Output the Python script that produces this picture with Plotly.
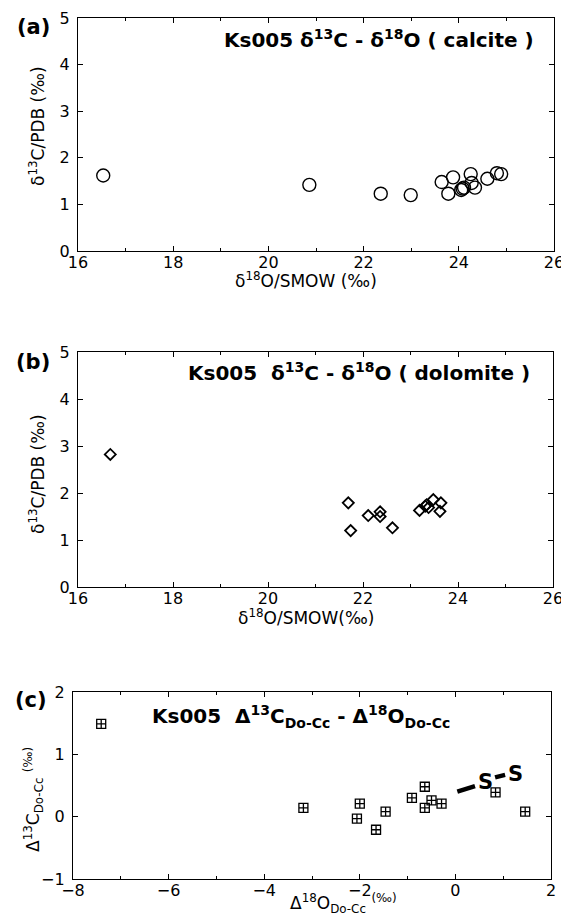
import plotly.graph_objects as go

# ---------------- data ----------------
# (a) calcite
calc_d18O = [16.53, 20.86, 22.36, 22.99, 23.64, 23.88, 23.78, 24.05, 24.08, 24.11,
             24.25, 24.27, 24.34, 24.60, 24.80, 24.89]
calc_d13C = [1.62, 1.42, 1.23, 1.20, 1.48, 1.58, 1.23, 1.31, 1.34, 1.36,
             1.65, 1.46, 1.36, 1.55, 1.67, 1.65]
# (b) dolomite
dolo_d18O = [16.68, 21.69, 21.74, 22.11, 22.36, 22.36, 22.62, 23.19, 23.31, 23.38,
             23.34, 23.48, 23.64, 23.62]
dolo_d13C = [2.82, 1.79, 1.20, 1.52, 1.60, 1.50, 1.26, 1.63, 1.72, 1.69,
             1.75, 1.86, 1.79, 1.61]
# (c) dolomite - calcite differences
diff_d18O = [-7.41, -3.18, -2.00, -2.06, -1.66, -1.46, -0.91, -0.64, -0.64, -0.50,
             -0.29, 0.84, 1.46]
diff_d13C = [1.49, 0.14, 0.21, -0.03, -0.21, 0.08, 0.30, 0.48, 0.14, 0.26,
             0.21, 0.39, 0.08]

# axis ranges
a_xrange, a_yrange = [16, 26], [0, 5]
c_xrange, c_yrange = [-8, 2], [-1, 2]

# "S-S" annotation in panel (c)
ss_dash1 = ([0.04, 0.41], [0.40, 0.49])
ss_dash2 = ([0.83, 1.04], [0.63, 0.67])
ss_letters = ([0.62, 1.25], [0.55, 0.69])

FONT = "DejaVu Sans, Liberation Sans, Arial, sans-serif"

fig = go.Figure()

fig.add_trace(go.Scatter(x=calc_d18O, y=calc_d13C, mode="markers", xaxis="x", yaxis="y",
                         marker=dict(symbol="circle-open", size=13, color="black",
                                     line=dict(width=1.4, color="black")),
                         showlegend=False))
fig.add_trace(go.Scatter(x=dolo_d18O, y=dolo_d13C, mode="markers", xaxis="x2", yaxis="y2",
                         marker=dict(symbol="diamond-open", size=8.5, color="black",
                                     line=dict(width=1.8, color="black")),
                         showlegend=False))
fig.add_trace(go.Scatter(x=diff_d18O, y=diff_d13C, mode="markers", xaxis="x3", yaxis="y3",
                         marker=dict(symbol="square-cross-open", size=9, color="black",
                                     line=dict(width=1.3, color="black")),
                         showlegend=False))
for dx, dy in (ss_dash1, ss_dash2):
    fig.add_trace(go.Scatter(x=dx, y=dy, mode="lines", xaxis="x3", yaxis="y3",
                             line=dict(color="black", width=4.5), showlegend=False))

# page body has an 8px margin; size the figure so the page is 569 x 914
OFF = 8
W, H = 569 - OFF, 914 - OFF
def px(v):
    return (v - OFF) / W
def py(v):
    return 1 - (v - OFF) / H

def axstyle(rng, dtick, minor_dtick=None, standoff=0):
    d = dict(range=rng, dtick=dtick, showline=True, linecolor="black", linewidth=1.2,
             mirror="ticks", ticks="inside", ticklen=5, tickcolor="black", tickwidth=1,
             showgrid=False, zeroline=False, automargin=False, ticklabelstandoff=standoff,
             ticklabeloverflow="allow",
             tickfont=dict(family=FONT, size=16, color="black"))
    if minor_dtick:
        d["minor"] = dict(dtick=minor_dtick, ticks="inside", ticklen=3, tickcolor="black")
    return d

layout = dict(
    width=W, height=H, margin=dict(l=0, r=0, t=0, b=0),
    paper_bgcolor="white", plot_bgcolor="white",
    font=dict(family=FONT, color="black"),
)
layout["xaxis"] = dict(axstyle(a_xrange, 2, 1, -3), domain=[px(78), px(554)], anchor="y")
layout["yaxis"] = dict(axstyle(a_yrange, 1, None, 4), domain=[py(251), py(18)], anchor="x")
layout["xaxis2"] = dict(axstyle(a_xrange, 2, 1, -3), domain=[px(78), px(553)], anchor="y2")
layout["yaxis2"] = dict(axstyle(a_yrange, 1, None, 4), domain=[py(587), py(352)], anchor="x2")
layout["xaxis3"] = dict(axstyle(c_xrange, 2, 1, -3), domain=[px(73), px(551)], anchor="y3")
layout["yaxis3"] = dict(axstyle(c_yrange, 1, None, 4), domain=[py(879), py(692)], anchor="x3")

ann = []
tfont = dict(family=FONT, size=17, color="black")

def paper_text(text, x, y, font, angle=0):
    ann.append(dict(text=text, x=px(x), y=py(y), xref="paper", yref="paper",
                    showarrow=False, font=font, xanchor="center", yanchor="middle",
                    textangle=angle))

# axis titles
paper_text("δ<sup>18</sup>O/SMOW (‰)", 306, 280, tfont)
paper_text("δ<sup>13</sup>C/PDB (‰)", 37, 126, tfont, -90)
paper_text("δ<sup>18</sup>O/SMOW(‰)", 306, 617, tfont)
paper_text("δ<sup>13</sup>C/PDB (‰)", 37, 474, tfont, -90)
paper_text("Δ<sup>18</sup>O<sub>Do-Cc</sub> <sup>(‰)</sup>", 343, 903, tfont)
paper_text("Δ<sup>13</sup>C<sub>Do-Cc</sub> <sup>(‰)</sup>", 33, 800, tfont, -90)

# panel labels
bold = dict(family=FONT, size=21, color="black")
paper_text("<b>(a)</b>", 33, 27, bold)
paper_text("<b>(b)</b>", 33, 362, bold)
paper_text("<b>(c)</b>", 31, 700, bold)

# panel titles
hfont = dict(family=FONT, size=20, color="black")
ann.append(dict(text="<b>Ks005 δ<sup>13</sup>C - δ<sup>18</sup>O ( calcite )</b>",
                x=0.962, y=0.91, xref="x domain", yref="y domain", xanchor="right",
                yanchor="middle", showarrow=False, font=hfont))
ann.append(dict(text="<b>Ks005  δ<sup>13</sup>C - δ<sup>18</sup>O ( dolomite )</b>",
                x=0.955, y=0.915, xref="x2 domain", yref="y2 domain", xanchor="right",
                yanchor="middle", showarrow=False, font=hfont))
ann.append(dict(text="<b>Ks005  Δ<sup>13</sup>C<sub>Do-Cc</sub> - Δ<sup>18</sup>O<sub>Do-Cc</sub></b>",
                x=0.162, y=0.87, xref="x3 domain", yref="y3 domain", xanchor="left",
                yanchor="middle", showarrow=False, font=hfont))
for sx, sy in zip(*ss_letters):
    ann.append(dict(text="<b>S</b>", x=sx, y=sy, xref="x3", yref="y3", showarrow=False,
                    font=dict(family=FONT, size=21, color="black")))
layout["annotations"] = ann

fig.update_layout(**layout)
fig.write_html("out.html")
